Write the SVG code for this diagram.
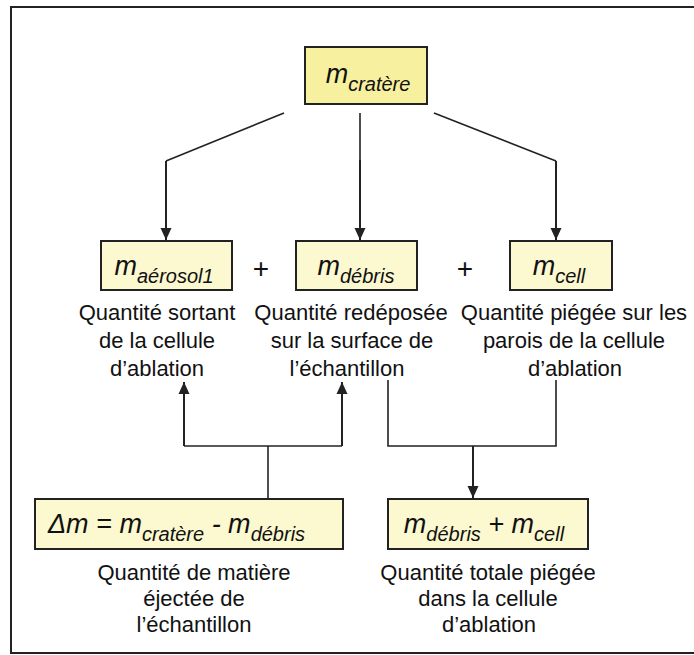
<svg xmlns="http://www.w3.org/2000/svg" width="694" height="655" viewBox="0 0 694 655">
<style>
.box{stroke:#222;stroke-width:2}
.top{fill:#F7F09E}
.nb{fill:#FCF8CF}
.lbl{font-family:"Liberation Sans",Arial,sans-serif;font-size:22px;fill:#111;text-anchor:middle}
.m{font-family:"Liberation Sans",Arial,sans-serif;font-style:italic;fill:#111}
.big{font-size:27px}
.sub{font-size:20px}
.plus{font-family:"Liberation Sans",Arial,sans-serif;font-size:28px;fill:#111;text-anchor:middle}
.c{fill:none;stroke:#222;stroke-width:1.6}
.ca{fill:none;stroke:#222;stroke-width:2}
</style>
<defs>
<marker id="ah" markerUnits="userSpaceOnUse" markerWidth="12" markerHeight="12" viewBox="0 0 12 12" refX="12" refY="6" orient="auto-start-reverse">
<path d="M0,0.5 L12,6 L0,11.5 z" fill="#222"/>
</marker>
</defs>
<rect x="11" y="7" width="690" height="646" fill="#fff" stroke="#222" stroke-width="2"/>
<g id="connectors">
<path class="c" d="M284,113 L166,161"/>
<path class="ca" d="M166,161 L166,240" marker-end="url(#ah)"/>
<path class="c" d="M360,113 L360,160"/>
<path class="ca" d="M360,160 L360,240" marker-end="url(#ah)"/>
<path class="c" d="M434,113 L556,161"/>
<path class="ca" d="M556,161 L556,240" marker-end="url(#ah)"/>
<path class="c" d="M268,498 L268,446"/>
<path class="c" d="M184,446 L342,446"/>
<path class="ca" d="M184,446 L184,382" marker-end="url(#ah)"/>
<path class="ca" d="M342,446 L342,382" marker-end="url(#ah)"/>
<path class="c" d="M388,380 L388,446 L556,446 L556,380"/>
<path class="ca" d="M473,446 L473,498" marker-end="url(#ah)"/>
</g>
<g id="n-cratere">
<rect class="box top" x="305" y="47" width="122" height="57"/>
<text class="m" x="368" y="83" text-anchor="middle"><tspan class="big">m</tspan><tspan class="sub" dy="8">cratère</tspan></text>
</g>
<g id="n-aerosol">
<rect class="box nb" x="101" y="241" width="131" height="49"/>
<text class="m" x="164" y="275" text-anchor="middle"><tspan class="big">m</tspan><tspan class="sub" dy="8">aérosol1</tspan></text>
<text class="lbl" x="157" y="320">Quantité sortant</text>
<text class="lbl" x="157" y="348">de la cellule</text>
<text class="lbl" x="157" y="376">d’ablation</text>
</g>
<text class="plus" x="261" y="278">+</text>
<g id="n-debris">
<rect class="box nb" x="296" y="241" width="121" height="49"/>
<text class="m" x="356" y="275" text-anchor="middle"><tspan class="big">m</tspan><tspan class="sub" dy="8">débris</tspan></text>
<text class="lbl" x="351" y="320">Quantité redéposée</text>
<text class="lbl" x="352" y="348">sur la surface de</text>
<text class="lbl" x="347" y="376">l’échantillon</text>
</g>
<text class="plus" x="465" y="278">+</text>
<g id="n-cell">
<rect class="box nb" x="510" y="241" width="102" height="49"/>
<text class="m" x="559" y="275" text-anchor="middle"><tspan class="big">m</tspan><tspan class="sub" dy="8">cell</tspan></text>
<text class="lbl" x="574" y="320">Quantité piégée sur les</text>
<text class="lbl" x="574" y="348">parois de la cellule</text>
<text class="lbl" x="575" y="376">d’ablation</text>
</g>
<g id="n-delta">
<rect class="box nb" x="35" y="499" width="308" height="50"/>
<text class="m" x="48" y="533"><tspan class="big">Δm = m</tspan><tspan class="sub" dy="8">cratère</tspan><tspan class="big" dy="-8"> - m</tspan><tspan class="sub" dy="8">débris</tspan></text>
<text class="lbl" x="194" y="580">Quantité de matière</text>
<text class="lbl" x="194" y="606">éjectée de</text>
<text class="lbl" x="194" y="632">l’échantillon</text>
</g>
<g id="n-total">
<rect class="box nb" x="388" y="499" width="200" height="50"/>
<text class="m" x="484" y="533" text-anchor="middle"><tspan class="big">m</tspan><tspan class="sub" dy="8">débris</tspan><tspan class="big" dy="-8"> + m</tspan><tspan class="sub" dy="8">cell</tspan></text>
<text class="lbl" x="488" y="580">Quantité totale piégée</text>
<text class="lbl" x="488" y="606">dans la cellule</text>
<text class="lbl" x="489" y="632">d’ablation</text>
</g>
</svg>
